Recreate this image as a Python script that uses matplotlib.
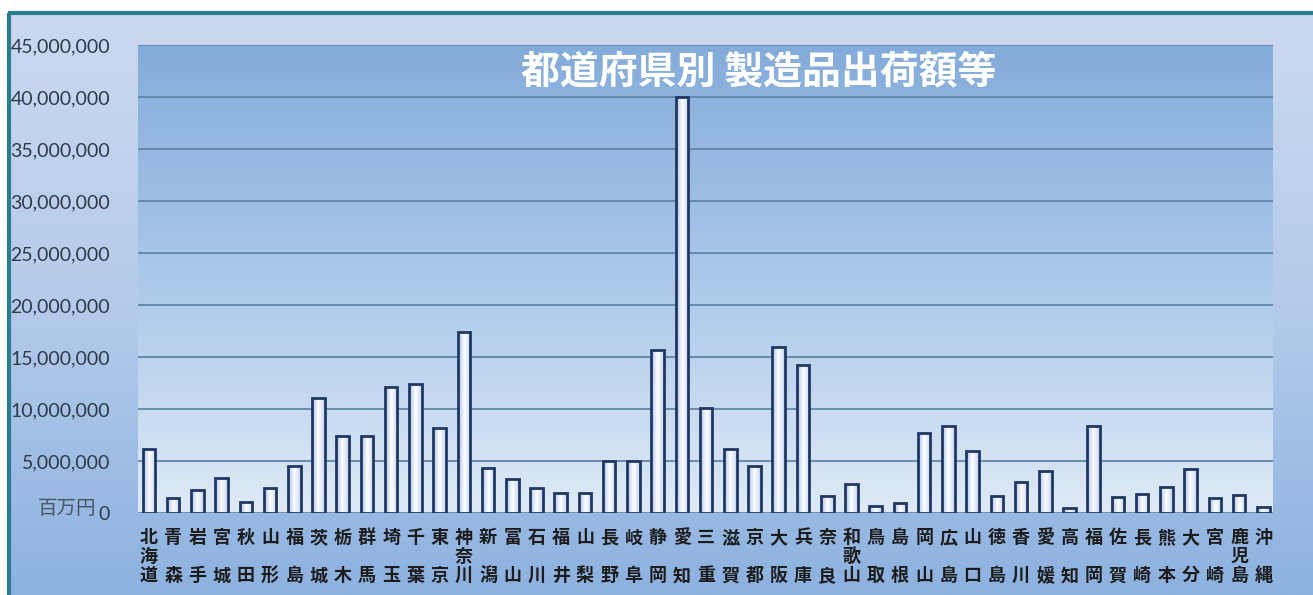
import numpy as np
import matplotlib.pyplot as plt
from matplotlib.colors import LinearSegmentedColormap
from matplotlib.ticker import FuncFormatter

prefs = ["北海道", "青森", "岩手", "宮城", "秋田", "山形", "福島", "茨城", "栃木", "群馬",
         "埼玉", "千葉", "東京", "神奈川", "新潟", "富山", "石川", "福井", "山梨", "長野",
         "岐阜", "静岡", "愛知", "三重", "滋賀", "京都", "大阪", "兵庫", "奈良", "和歌山",
         "鳥取", "島根", "岡山", "広島", "山口", "徳島", "香川", "愛媛", "高知", "福岡",
         "佐賀", "長崎", "熊本", "大分", "宮崎", "鹿児島", "沖縄"]
# 百万円
values = [6150000, 1470000, 2200000, 3400000, 1050000, 2400000, 4500000, 11100000, 7400000, 7400000,
          12150000, 12400000, 8150000, 17400000, 4300000, 3300000, 2400000, 1900000, 1950000, 5000000,
          5000000, 15700000, 40000000, 10100000, 6200000, 4550000, 16000000, 14250000, 1670000, 2750000,
          670000, 930000, 7660000, 8370000, 6000000, 1670000, 3000000, 4040000, 450000, 8370000,
          1570000, 1800000, 2530000, 4230000, 1410000, 1700000, 550000]
yticks = np.arange(0, 45000001, 5000000)
title = "都道府県別 製造品出荷額等"

W, H = 1313, 595
fig = plt.figure(figsize=(W / 100, H / 100), dpi=100)

# background (pixel coordinates)
bg = fig.add_axes([0, 0, 1, 1])
bg.set_xlim(0, W)
bg.set_ylim(H, 0)
bg.axis("off")
outer = LinearSegmentedColormap.from_list("outer", ["#cbd9f0", "#b4cbeb", "#8db2e0"])
bg.imshow(np.linspace(0, 1, 256)[:, None], cmap=outer, aspect="auto",
          extent=[10, W, H, 14], zorder=0)
bg.fill_between([0, W], 0, 12, color="white", zorder=1)
bg.plot([8, W], [13, 13], color="#2e7d8f", lw=3, zorder=2, solid_capstyle="butt")
bg.plot([9, 9], [13, H], color="#2e7d8f", lw=3, zorder=2, solid_capstyle="butt")
bg.set_xlim(0, W)
bg.set_ylim(H, 0)

ax = fig.add_axes([138 / W, (H - 513) / H, 1135 / W, 468 / H])
x = np.arange(len(prefs))
xlim = (-0.45, len(prefs) - 0.6)
ylim = (0, 45000000)

inner = LinearSegmentedColormap.from_list("inner", ["#84acda", "#aac8ea", "#dfeaf6"])
ax.imshow(np.linspace(0, 1, 256)[:, None], cmap=inner, aspect="auto",
          extent=[xlim[0], xlim[1], ylim[0], ylim[1]], origin="upper", zorder=0)

bars = ax.bar(x, values, width=0.52, facecolor="none", edgecolor="#1f3864", lw=2, zorder=3)
barcm = LinearSegmentedColormap.from_list("bar", ["#a9bfe8", "#ffffff", "#c3d3ef"])
grad = np.linspace(0, 1, 64)[None, :]
for b in bars:
    x0, y0 = b.get_x(), b.get_y()
    im = ax.imshow(grad, cmap=barcm, aspect="auto",
                   extent=[x0, x0 + b.get_width(), y0, y0 + b.get_height()], zorder=2)
    im.set_clip_path(b)

ax.set_xlim(*xlim)
ax.set_ylim(*ylim)
ax.set_yticks(yticks)
ax.yaxis.set_major_formatter(FuncFormatter(lambda v, p: f"{int(v):,}"))
ax.grid(axis="y", color="#5f87aa", lw=1.3, zorder=1)
ax.set_axisbelow(True)
for s in ax.spines.values():
    s.set_visible(False)
ax.tick_params(axis="y", length=0, pad=20, labelsize=14, labelcolor="#2f3a48")
for t in ax.get_yticklabels():
    t.set_family(["Lato", "DejaVu Sans"])

def vlabel(name):
    if len(name) == 2:
        return name[0] + "\n\n" + name[1]
    return "\n".join(name)

ax.set_xticks(x)
ax.set_xticklabels([vlabel(p) for p in prefs], family=["Noto Sans CJK JP", "DejaVu Sans"],
                   fontsize=13, fontweight="bold", color="#1c1c1c", linespacing=1.0)
ax.tick_params(axis="x", length=0, pad=11)

ax.annotate("百万円", xy=(0, 0), xycoords=("axes fraction", "data"), xytext=(-42, 4),
            textcoords="offset pixels", ha="right", va="center", fontsize=14,
            color="#4a5562", family=["Noto Sans CJK JP", "DejaVu Sans"])

ax.text(0.547, 0.942, title, transform=ax.transAxes, ha="center", va="center",
        fontsize=28, fontweight="bold", color="white",
        family=["Noto Sans CJK JP", "DejaVu Sans"])

fig.savefig("out.png", dpi=100)
